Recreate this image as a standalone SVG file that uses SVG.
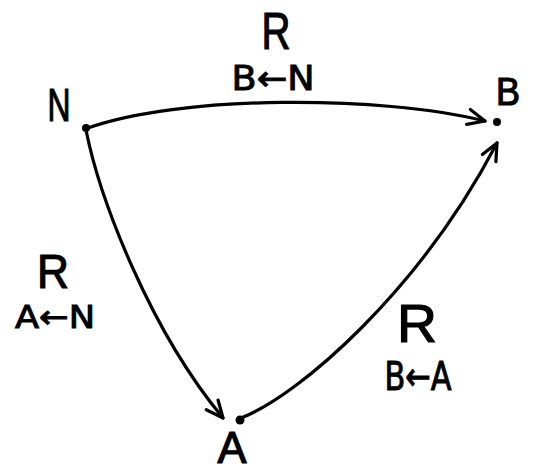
<svg xmlns="http://www.w3.org/2000/svg" width="541" height="472" viewBox="0 0 541 472">
<style>
.edge{fill:none;stroke:#000;stroke-width:3.2;stroke-linecap:round}
.dot{fill:#000}
.lbl{font-family:"Liberation Sans","DejaVu Sans",sans-serif;fill:#000;stroke:#000;stroke-width:1.2;text-anchor:middle}
.sub{font-family:"DejaVu Sans",sans-serif;fill:#000;stroke:#000;stroke-width:1;text-anchor:middle}
</style>
<defs>
<marker id="arr" viewBox="0 0 10 10" refX="10" refY="5" markerWidth="17" markerHeight="17" markerUnits="userSpaceOnUse" orient="auto" overflow="visible">
<path d="M0,0.5 L10,5 L0,9.5" fill="none" stroke="#000" stroke-width="1.9" stroke-linecap="round" stroke-linejoin="round"/>
</marker>
</defs>
<rect width="541" height="472" fill="#fff"/>
<g id="connectors">
<path id="e-NB" class="edge" d="M88,128 C180,95 380,95 485,121" marker-end="url(#arr)"/>
<path id="e-NA" class="edge" d="M86,130 C100,200 150,330 223,418" marker-end="url(#arr)"/>
<path id="e-AB" class="edge" d="M241,418 C300,395 420,290 497,143" marker-end="url(#arr)"/>
<text class="lbl" x="276" y="49" font-size="52" textLength="29" lengthAdjust="spacingAndGlyphs">R</text>
<text class="sub" x="273" y="90" font-size="34" textLength="83" lengthAdjust="spacingAndGlyphs">B←N</text>
<text class="lbl" x="53" y="288" font-size="48" textLength="32" lengthAdjust="spacingAndGlyphs">R</text>
<text class="sub" x="55" y="328" font-size="32" textLength="80" lengthAdjust="spacingAndGlyphs">A←N</text>
<text class="lbl" x="417" y="342" font-size="54" textLength="40" lengthAdjust="spacingAndGlyphs">R</text>
<text class="sub" x="418" y="390" font-size="39" textLength="67" lengthAdjust="spacingAndGlyphs">B←A</text>
</g>
<g id="node-N">
<circle class="dot" cx="86" cy="128" r="4"/>
<text class="lbl" x="59" y="121" font-size="46" textLength="23" lengthAdjust="spacingAndGlyphs">N</text>
</g>
<g id="node-B">
<circle class="dot" cx="497" cy="122" r="4"/>
<text class="lbl" x="508" y="105" font-size="38" textLength="24" lengthAdjust="spacingAndGlyphs">B</text>
</g>
<g id="node-A">
<circle class="dot" cx="240" cy="420" r="4.5"/>
<text class="lbl" x="232" y="463" font-size="44" textLength="29" lengthAdjust="spacingAndGlyphs">A</text>
</g>
</svg>
